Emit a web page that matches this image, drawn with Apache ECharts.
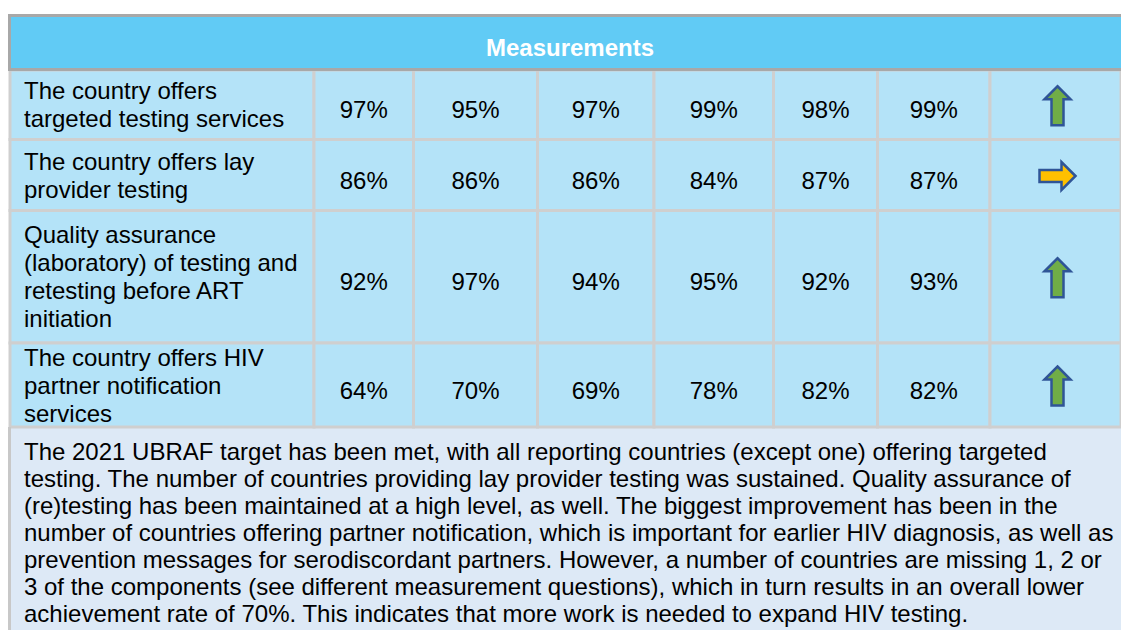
<!DOCTYPE html>
<html>
<head>
<meta charset="utf-8">
<script src="https://cdn.jsdelivr.net/npm/echarts@6/dist/echarts.min.js"></script>
<style>
html, body { margin: 0; padding: 0; background: #fff; }
#chart { width: 1121px; height: 630px; }
</style>
</head>
<body>
<div id="chart"></div>
<script>
const headerTitle = 'Measurements';
const measures = [
    'The country offers\ntargeted testing services',
    'The country offers lay\nprovider testing',
    'Quality assurance\n(laboratory) of testing and\nretesting before ART\ninitiation',
    'The country offers HIV\npartner notification\nservices'
];
const targetedTesting = [97, 95, 97, 99, 98, 99];
const layProviderTesting = [86, 86, 86, 84, 87, 87];
const qualityAssurance = [92, 97, 94, 95, 92, 93];
const partnerNotification = [64, 70, 69, 78, 82, 82];
const trends = ['up', 'flat', 'up', 'up'];
const summaryLines = [
    'The 2021 UBRAF target has been met, with all reporting countries (except one) offering targeted',
    'testing. The number of countries providing lay provider testing was sustained. Quality assurance of',
    '(re)testing has been maintained at a high level, as well. The biggest improvement has been in the',
    'number of countries offering partner notification, which is important for earlier HIV diagnosis, as well as',
    'prevention messages for serodiscordant partners. However, a number of countries are missing 1, 2 or',
    '3 of the components (see different measurement questions), which in turn results in an overall lower',
    'achievement rate of 70%. This indicates that more work is needed to expand HIV testing.'
];

// table layout, in grid units (1 unit = 1px)
const colEdges = [0, 304, 403.5, 527.5, 644, 763.5, 867.5, 980, 1111];
const rowEdges = [0, 69.5, 140.5, 273, 357];

const font = "'Liberation Sans', Arial, sans-serif";
const rowValues = [targetedTesting, layProviderTesting, qualityAssurance, partnerNotification];

const cells = [];
measures.forEach((m, r) => {
    for (let c = 0; c < colEdges.length - 1; c++) {
        cells.push([c, r]);
    }
});

const arrowPoints = (type, cx, cy) => {
    if (type === 'flat') {
        return [[cx + 18, cy], [cx + 4, cy - 14], [cx + 4, cy - 6], [cx - 18, cy - 6],
            [cx - 18, cy + 6], [cx + 4, cy + 6], [cx + 4, cy + 14]];
    }
    return [[cx, cy - 19.5], [cx + 13, cy - 6.5], [cx + 6, cy - 6.5], [cx + 6, cy + 19.5],
        [cx - 6, cy + 19.5], [cx - 6, cy - 6.5], [cx - 13, cy - 6.5]];
};

const renderCell = (params, api) => {
    const c = api.value(0);
    const r = api.value(1);
    const p0 = api.coord([colEdges[c], rowEdges[r]]);
    const p1 = api.coord([colEdges[c + 1], rowEdges[r + 1]]);
    const cx = (p0[0] + p1[0]) / 2;
    const cy = (p0[1] + p1[1]) / 2;
    const children = [{
        type: 'rect',
        shape: { x: p0[0], y: p0[1], width: p1[0] - p0[0], height: p1[1] - p0[1] },
        style: { fill: '#b4e3f8', stroke: '#cfcfcf', lineWidth: 3 }
    }];
    if (c === 0) {
        children.push({
            type: 'text',
            style: {
                text: measures[r], x: p0[0] + 14, y: cy,
                align: 'left', verticalAlign: 'middle',
                fontFamily: font, fontSize: 24, lineHeight: 28, fill: '#000'
            }
        });
    } else if (c <= 6) {
        children.push({
            type: 'text',
            style: {
                text: rowValues[r][c - 1] + '%', x: cx, y: cy + 5,
                align: 'center', verticalAlign: 'middle',
                fontFamily: font, fontSize: 24, fill: '#000'
            }
        });
    } else {
        children.push({
            type: 'polygon',
            shape: { points: arrowPoints(trends[r], cx + 2, cy + 1) },
            style: {
                fill: trends[r] === 'flat' ? '#ffc000' : '#70ad47',
                stroke: '#2f5597', lineWidth: 2.5
            }
        });
    }
    return { type: 'group', children: children };
};

const myChart = echarts.init(document.getElementById('chart'), null, { renderer: 'svg' });
let option = {
    backgroundColor: '#fff',
    animation: false,
    grid: { left: 10, top: 70, width: 1111, height: 357 },
    xAxis: { type: 'value', min: 0, max: 1111, show: false },
    yAxis: { type: 'value', min: 0, max: 357, inverse: true, show: false },
    graphic: [
        {
            type: 'rect', z: 1,
            shape: { x: 10, y: 15, width: 1111, height: 55 },
            style: { fill: '#61cbf5' }
        },
        {
            type: 'text', z: 10,
            style: {
                text: headerTitle, x: 570, y: 47, align: 'center', verticalAlign: 'middle',
                fontFamily: font, fontSize: 24, fontWeight: 'bold', fill: '#fff'
            }
        },
        {
            type: 'rect', z: 1,
            shape: { x: 10, y: 428, width: 1111, height: 202 },
            style: { fill: '#dde9f6' }
        },
        {
            type: 'text', z: 10,
            style: {
                text: summaryLines.join('\n'), x: 24, y: 438, align: 'left', verticalAlign: 'top',
                fontFamily: font, fontSize: 24, lineHeight: 27, fill: '#000'
            }
        },
        { type: 'line', z: 20, shape: { x1: 8, y1: 15.5, x2: 1121, y2: 15.5 }, style: { stroke: '#a8a8a8', lineWidth: 3 } },
        { type: 'line', z: 20, shape: { x1: 8, y1: 69.5, x2: 1121, y2: 69.5 }, style: { stroke: '#a8a8a8', lineWidth: 3 } },
        { type: 'line', z: 20, shape: { x1: 9.5, y1: 14, x2: 9.5, y2: 71 }, style: { stroke: '#a8a8a8', lineWidth: 3 } },
        { type: 'line', z: 20, shape: { x1: 9.5, y1: 427, x2: 9.5, y2: 630 }, style: { stroke: '#c8c8c8', lineWidth: 3 } }
    ],
    series: [
        {
            type: 'custom',
            renderItem: renderCell,
            data: cells,
            z: 5,
            silent: true
        }
    ]
};
myChart.setOption(option);
window.addEventListener('resize', () => {
    myChart.resize();
});
</script>
</body>
</html>
